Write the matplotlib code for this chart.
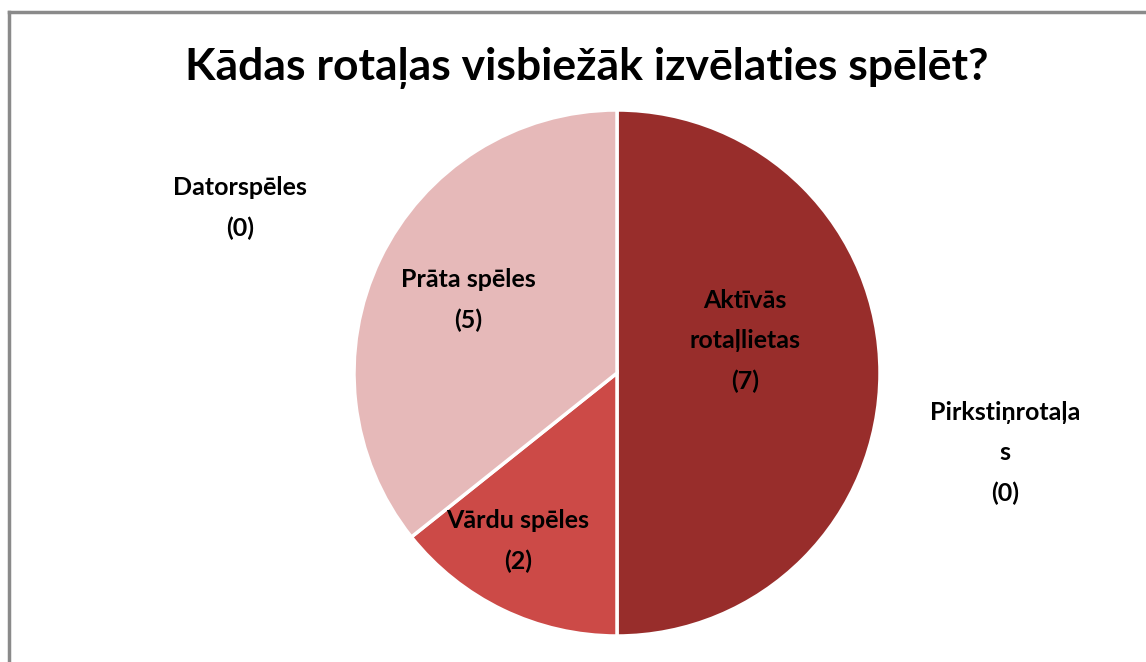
import matplotlib.pyplot as plt
from matplotlib.lines import Line2D

plt.rcParams['font.family'] = ['Lato', 'DejaVu Sans']

# dati
labels = ['Aktīvās\nrotaļlietas', 'Pirkstiņrotaļa\ns', 'Vārdu spēles', 'Prāta spēles', 'Datorspēles']
values = [7, 0, 2, 5, 0]
colors = ['#982D2B', '#C0504D', '#CC4A47', '#E6B9B9', '#F2DCDB']
# etiķešu vietas (pikseļos no augšējā kreisā stūra)
label_pos = [(745, 341), (1005, 453), (518, 541), (468, 300), (240, 208)]

W, H = 1146, 662
fig = plt.figure(figsize=(W / 100, H / 100), dpi=100)
ax = fig.add_axes([0, 0, 1, 1])

# rāmis (tikai augša un kreisā mala)
fig.add_artist(Line2D([9 / W, 9 / W], [0, 1 - 12 / H], transform=fig.transFigure,
                      color='#8A8A8A', lw=2.5))
fig.add_artist(Line2D([9 / W, 1], [1 - 12 / H, 1 - 12 / H], transform=fig.transFigure,
                      color='#8A8A8A', lw=2.5))

cx, cy, r = 617, H - 373, 263
nonzero = [i for i, v in enumerate(values) if v > 0]
wedges, _ = ax.pie([values[i] for i in nonzero], colors=[colors[i] for i in nonzero],
                   startangle=90, counterclock=False, center=(cx, cy), radius=r,
                   wedgeprops=dict(edgecolor='white', linewidth=2.5), frame=True)
ax.set_xlim(0, W)
ax.set_ylim(0, H)
ax.set_aspect('equal')
ax.axis('off')

for lab, val, (x, y) in zip(labels, values, label_pos):
    ax.text(x, H - y, f'{lab}\n({val})', ha='center', va='center',
            fontsize=18, fontweight='bold', color='black', linespacing=1.9)

fig.text(587 / W, 1 - 68 / H, 'Kādas rotaļas visbiežāk izvēlaties spēlēt?',
         ha='center', va='center', fontsize=32, fontweight='bold')

fig.savefig('out.png', dpi=100, facecolor='white')
